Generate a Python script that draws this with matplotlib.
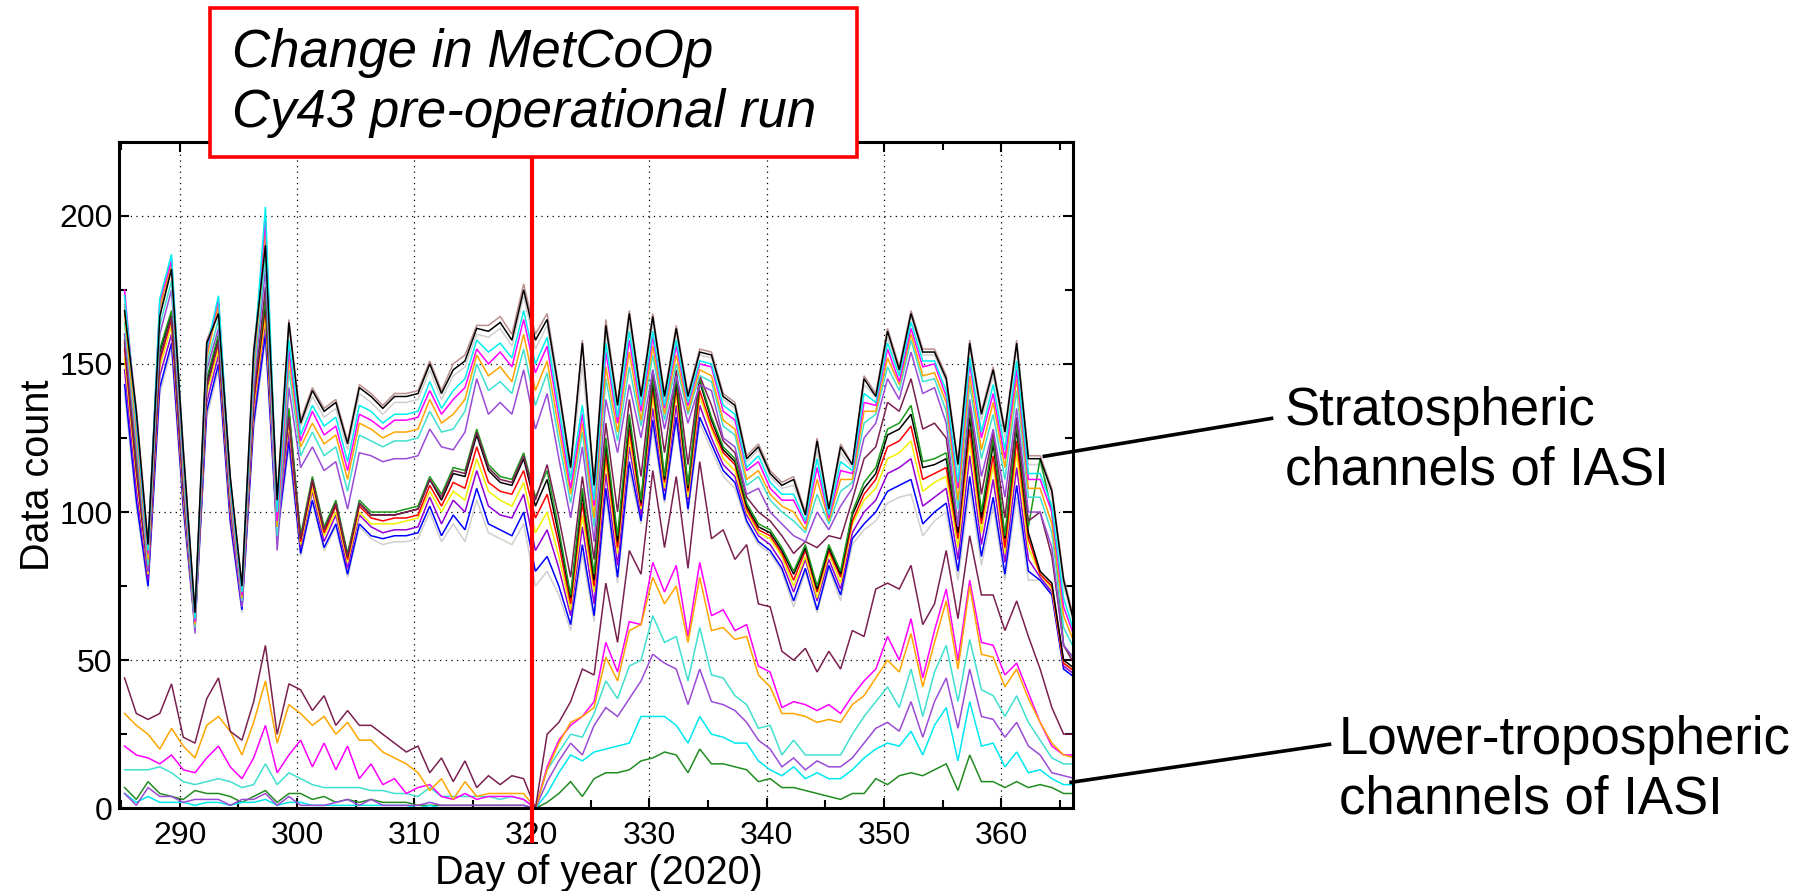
import numpy as np
import matplotlib
matplotlib.use("Agg")
import matplotlib.pyplot as plt
from matplotlib.lines import Line2D
from matplotlib.patches import Rectangle
from matplotlib.ticker import MultipleLocator

plt.rcParams['font.family'] = ['Liberation Sans', 'DejaVu Sans']

# ---------------- data ----------------
# daily observation counts, day 285 ... 366 (observation time ~0.3 day into each day)
day_of_year = np.arange(285, 367) + 0.3

# Stratospheric channels, upper sub-bundle
strat_rosybrown = [170, 135, 90, 167, 183, 122, 66, 158, 168, 112,
                   75, 155, 192, 105, 165, 131, 142, 135, 138, 124,
                   143, 140, 136, 140, 140, 141, 151, 141, 150, 153,
                   163, 163, 166, 160, 177, 160, 167, 142, 116, 158,
                   110, 165, 137, 168, 140, 167, 140, 163, 140, 155,
                   154, 140, 137, 119, 123, 114, 110, 112, 100, 125,
                   101, 123, 116, 146, 140, 162, 149, 168, 155, 155,
                   146, 117, 158, 134, 149, 128, 158, 119, 119, 108,
                   78, 62]
strat_black = [168, 134, 89, 166, 182, 121, 66, 157, 167, 112,
               75, 154, 190, 104, 164, 130, 141, 134, 137, 123,
               142, 139, 135, 139, 139, 140, 150, 140, 148, 151,
               162, 161, 164, 158, 175, 158, 165, 141, 115, 157,
               109, 163, 136, 167, 139, 166, 139, 162, 139, 154,
               153, 139, 136, 118, 122, 113, 109, 111, 99, 124,
               101, 122, 116, 145, 139, 161, 148, 167, 154, 154,
               145, 116, 157, 133, 148, 127, 157, 118, 118, 107,
               77, 61]
strat_lightgray = [174, 133, 88, 170, 185, 120, 65, 156, 171, 111,
                   74, 153, 195, 102, 162, 129, 139, 132, 135, 121,
                   140, 137, 133, 137, 137, 138, 148, 138, 146, 149,
                   160, 159, 162, 156, 173, 155, 163, 138, 113, 150,
                   107, 161, 134, 164, 138, 164, 138, 160, 139, 153,
                   152, 138, 135, 117, 121, 112, 108, 109, 99, 121,
                   100, 120, 115, 143, 139, 159, 147, 166, 153, 153,
                   144, 114, 155, 131, 146, 125, 155, 116, 116, 105,
                   75, 60]
strat_cyan = [173, 131, 87, 172, 187, 119, 64, 155, 173, 110,
              73, 151, 203, 100, 158, 126, 136, 129, 132, 117,
              136, 134, 130, 133, 133, 134, 144, 135, 141, 145,
              158, 154, 157, 152, 168, 150, 159, 135, 111, 136,
              104, 157, 132, 161, 136, 161, 136, 158, 137, 151,
              150, 136, 133, 115, 119, 110, 106, 106, 97, 118,
              99, 117, 114, 140, 137, 157, 146, 164, 151, 151,
              141, 110, 152, 127, 143, 121, 151, 113, 113, 102,
              71, 58]
strat_magenta = [175, 130, 86, 171, 185, 118, 63, 154, 172, 109,
                 72, 150, 199, 97, 155, 124, 134, 126, 129, 114,
                 133, 131, 128, 131, 131, 132, 141, 133, 138, 142,
                 155, 150, 154, 149, 165, 147, 156, 132, 108, 133,
                 102, 154, 130, 158, 134, 159, 135, 156, 136, 150,
                 149, 134, 131, 114, 117, 108, 104, 104, 96, 115,
                 98, 114, 113, 137, 136, 155, 144, 162, 149, 150,
                 139, 108, 150, 125, 140, 118, 148, 111, 111, 100,
                 68, 57]
strat_orange = [167, 127, 84, 169, 184, 116, 62, 152, 170, 107,
                71, 147, 196, 95, 152, 122, 130, 123, 126, 111,
                130, 128, 125, 127, 127, 128, 138, 130, 133, 138,
                153, 146, 149, 144, 160, 141, 151, 128, 106, 130,
                98, 149, 127, 154, 131, 156, 133, 153, 134, 148,
                146, 131, 128, 111, 114, 106, 102, 100, 94, 111,
                97, 111, 111, 134, 134, 152, 143, 160, 146, 147,
                137, 104, 146, 121, 137, 115, 145, 108, 108, 96,
                65, 55]
strat_turquoise = [164, 125, 82, 163, 178, 114, 61, 150, 165, 106,
                   70, 145, 187, 92, 148, 119, 127, 119, 122, 107,
                   126, 124, 122, 124, 124, 125, 134, 127, 128, 134,
                   150, 141, 144, 140, 155, 136, 147, 124, 103, 127,
                   95, 145, 124, 149, 129, 153, 131, 150, 133, 146,
                   144, 129, 126, 109, 112, 104, 100, 97, 93, 106,
                   96, 107, 110, 130, 133, 149, 141, 158, 144, 145,
                   134, 101, 143, 118, 133, 111, 141, 105, 105, 93,
                   61, 53]
strat_purple = [160, 122, 80, 160, 175, 112, 59, 148, 162, 104,
                68, 142, 182, 87, 142, 115, 122, 114, 117, 101,
                120, 119, 117, 118, 118, 119, 128, 122, 121, 127,
                145, 133, 137, 133, 148, 128, 140, 118, 98, 122,
                90, 138, 120, 143, 125, 148, 128, 146, 130, 143,
                141, 125, 122, 106, 108, 100, 96, 92, 90, 100,
                94, 102, 108, 125, 130, 145, 138, 154, 140, 142,
                130, 95, 138, 112, 128, 105, 135, 100, 100, 88,
                55, 50]
strat_maroon = [157, 115, 80, 152, 166, 108, 62, 142, 158, 102,
                70, 138, 176, 97, 132, 91, 111, 94, 103, 85,
                103, 99, 99, 99, 100, 101, 111, 105, 114, 113,
                127, 115, 111, 110, 119, 104, 116, 98, 78, 112,
                84, 130, 100, 138, 112, 148, 120, 148, 116, 146,
                136, 124, 120, 105, 100, 97, 92, 86, 90, 88,
                92, 91, 104, 118, 122, 137, 134, 145, 128, 130,
                125, 95, 137, 106, 127, 98, 132, 97, 100, 85,
                55, 48]

# Stratospheric channels, lower sub-bundle
strat_green = [160, 118, 82, 155, 168, 110, 64, 145, 160, 104,
               72, 140, 172, 100, 135, 92, 112, 95, 104, 86,
               104, 100, 100, 100, 101, 102, 112, 106, 115, 114,
               128, 116, 112, 111, 120, 105, 114, 94, 72, 108,
               79, 125, 92, 133, 104, 146, 112, 146, 109, 145,
               132, 122, 118, 103, 96, 94, 88, 80, 89, 75,
               89, 80, 100, 110, 115, 128, 130, 136, 117, 118,
               120, 95, 135, 100, 125, 92, 130, 95, 118, 100,
               55, 50]
strat_black2 = [158, 116, 81, 154, 167, 109, 64, 144, 159, 103,
                71, 139, 171, 99, 134, 91, 111, 94, 103, 85,
                103, 99, 99, 99, 100, 101, 111, 104, 113, 112,
                126, 114, 110, 109, 118, 102, 111, 92, 71, 106,
                77, 123, 90, 131, 103, 144, 111, 144, 108, 144,
                131, 121, 117, 102, 95, 93, 87, 79, 88, 74,
                88, 79, 99, 108, 113, 126, 128, 133, 115, 116,
                118, 93, 132, 98, 123, 91, 128, 93, 80, 76,
                50, 47]
strat_red = [155, 114, 80, 151, 165, 108, 63, 142, 157, 102,
             71, 137, 169, 98, 132, 90, 110, 93, 102, 84,
             102, 98, 97, 98, 98, 99, 109, 102, 110, 108,
             122, 110, 107, 106, 114, 98, 106, 89, 69, 103,
             75, 120, 88, 128, 102, 142, 110, 142, 107, 141,
             129, 120, 116, 101, 94, 92, 86, 77, 87, 73,
             87, 78, 97, 106, 111, 122, 124, 129, 111, 113,
             115, 91, 128, 96, 119, 88, 124, 91, 79, 75,
             49, 46]
strat_yellow = [152, 112, 79, 149, 163, 106, 62, 140, 155, 101,
                70, 135, 166, 96, 130, 89, 108, 92, 100, 83,
                100, 96, 96, 96, 97, 98, 107, 100, 107, 104,
                118, 107, 104, 102, 110, 93, 100, 85, 67, 99,
                73, 117, 86, 125, 101, 139, 108, 140, 105, 139,
                128, 118, 114, 100, 93, 91, 85, 75, 85, 71,
                86, 76, 96, 104, 108, 118, 120, 124, 107, 110,
                112, 88, 124, 93, 116, 86, 120, 88, 79, 74,
                49, 46]
strat_darkviolet = [148, 108, 77, 146, 160, 104, 62, 137, 153, 99,
                    68, 133, 164, 94, 127, 88, 107, 90, 99, 81,
                    99, 95, 93, 94, 94, 95, 105, 96, 104, 100,
                    114, 102, 99, 98, 106, 87, 94, 81, 65, 95,
                    69, 113, 82, 122, 99, 135, 107, 136, 104, 136,
                    125, 116, 112, 99, 92, 89, 83, 73, 84, 70,
                    84, 74, 93, 100, 104, 113, 115, 118, 102, 105,
                    108, 84, 119, 89, 111, 83, 115, 84, 78, 73,
                    48, 45]
strat_blue = [143, 104, 75, 142, 157, 102, 61, 134, 150, 97,
              67, 130, 160, 92, 124, 86, 104, 88, 96, 79,
              96, 92, 91, 92, 92, 93, 102, 92, 99, 94,
              108, 96, 94, 92, 100, 80, 85, 75, 62, 89,
              65, 108, 78, 117, 97, 131, 104, 132, 101, 132,
              123, 114, 110, 97, 90, 87, 81, 70, 81, 67,
              82, 72, 91, 96, 100, 107, 109, 111, 96, 100,
              103, 80, 112, 85, 105, 79, 109, 80, 77, 72,
              47, 44]
strat_lightgray2 = [140, 102, 74, 140, 155, 100, 60, 132, 148, 96,
                    66, 128, 158, 90, 122, 85, 103, 87, 95, 78,
                    95, 91, 89, 90, 90, 91, 100, 90, 96, 90,
                    104, 93, 91, 89, 96, 75, 80, 72, 60, 86,
                    63, 105, 76, 114, 96, 128, 103, 130, 100, 130,
                    121, 112, 108, 96, 89, 86, 80, 68, 80, 66,
                    81, 70, 89, 94, 97, 103, 105, 106, 92, 97,
                    100, 77, 108, 82, 102, 77, 105, 77, 77, 72,
                    47, 44]

# Lower-tropospheric channels
trop_maroon = [44, 32, 30, 32, 42, 24, 22, 37, 44, 26,
               23, 36, 55, 25, 42, 40, 33, 38, 28, 33,
               28, 28, 25, 22, 19, 21, 12, 17, 9, 16,
               7, 11, 8, 11, 10, 0, 25, 29, 36, 47,
               45, 76, 56, 87, 79, 114, 88, 112, 81, 117,
               91, 94, 84, 89, 69, 68, 53, 50, 54, 46,
               53, 47, 60, 58, 74, 76, 74, 82, 62, 69,
               87, 64, 92, 72, 72, 60, 70, 58, 47, 34,
               25, 25]
trop_orange = [32, 28, 25, 20, 27, 21, 17, 28, 31, 26,
               18, 29, 43, 22, 35, 32, 28, 31, 25, 29,
               23, 23, 19, 17, 15, 12, 6, 10, 3, 9,
               4, 5, 5, 5, 5, 0, 13, 22, 29, 31,
               34, 51, 43, 60, 62, 78, 69, 75, 56, 78,
               60, 61, 57, 58, 45, 41, 32, 32, 31, 29,
               30, 29, 35, 38, 44, 50, 46, 59, 41, 56,
               70, 47, 75, 52, 51, 41, 47, 37, 29, 22,
               18, 17]
trop_magenta = [21, 18, 17, 15, 18, 13, 12, 17, 21, 14,
                10, 17, 28, 12, 18, 23, 14, 22, 13, 21,
                10, 15, 8, 10, 5, 7, 8, 4, 3, 5,
                3, 4, 4, 4, 3, 0, 14, 23, 28, 31,
                36, 56, 46, 63, 62, 83, 73, 82, 58, 83,
                65, 67, 60, 62, 48, 46, 34, 36, 35, 33,
                35, 32, 38, 43, 47, 58, 50, 64, 44, 60,
                74, 50, 77, 56, 55, 45, 49, 39, 29, 21,
                18, 18]
trop_turquoise = [13, 13, 13, 14, 12, 9, 8, 9, 10, 9,
                  7, 8, 15, 8, 12, 10, 8, 7, 7, 7,
                  7, 6, 6, 5, 5, 4, 7, 4, 4, 4,
                  4, 4, 3, 4, 3, 0, 13, 19, 25, 24,
                  32, 43, 37, 48, 50, 65, 56, 58, 43, 61,
                  45, 44, 38, 35, 27, 28, 18, 23, 18, 18,
                  18, 18, 25, 31, 36, 41, 34, 47, 31, 46,
                  55, 36, 57, 40, 38, 31, 38, 29, 23, 17,
                  15, 15]
trop_purple = [5, 1, 7, 4, 4, 2, 3, 3, 3, 1,
               3, 3, 5, 1, 4, 1, 1, 1, 2, 3,
               1, 3, 1, 1, 1, 1, 2, 1, 1, 1,
               1, 1, 1, 1, 1, 0, 9, 16, 22, 18,
               28, 34, 31, 37, 43, 52, 49, 47, 35, 47,
               36, 35, 33, 29, 23, 20, 14, 17, 13, 16,
               14, 14, 17, 22, 27, 29, 26, 36, 24, 36,
               44, 27, 47, 31, 30, 24, 29, 21, 18, 12,
               11, 10]
trop_cyan = [5, 2, 4, 2, 2, 2, 1, 2, 2, 1,
             2, 2, 3, 1, 2, 2, 1, 1, 1, 1,
             1, 1, 1, 1, 1, 0, 1, 0, 0, 0,
             0, 0, 0, 0, 0, 0, 5, 12, 18, 16,
             19, 20, 21, 22, 31, 31, 31, 28, 22, 31,
             25, 24, 22, 22, 16, 13, 11, 14, 10, 12,
             10, 10, 13, 17, 20, 22, 21, 26, 18, 28,
             34, 16, 36, 21, 22, 14, 19, 12, 13, 10,
             8, 8]
trop_green = [7, 3, 9, 5, 4, 3, 6, 5, 5, 4,
              2, 4, 6, 2, 5, 5, 3, 4, 2, 3,
              2, 3, 2, 2, 2, 1, 1, 1, 1, 1,
              1, 1, 1, 1, 1, 0, 2, 5, 9, 4,
              10, 12, 12, 13, 16, 17, 19, 18, 12, 20,
              15, 15, 14, 13, 9, 10, 7, 7, 6, 5,
              4, 3, 5, 5, 10, 8, 11, 12, 11, 13,
              15, 6, 18, 9, 9, 7, 9, 7, 8, 7,
              5, 5]

change_day = 320
x_ticks = [290, 300, 310, 320, 330, 340, 350, 360]
y_ticks = [0, 50, 100, 150, 200]

# ---------------- drawing ----------------
W, H = 1809, 891
fig = plt.figure(figsize=(W / 100, H / 100), dpi=100)
ax_l, ax_r, ax_t, ax_b = 119.4, 1073.0, 141.7, 808.3
ax = fig.add_axes([ax_l / W, 1 - ax_b / H, (ax_r - ax_l) / W, (ax_b - ax_t) / H])

series = [
    (strat_lightgray2, '#cfcfcf'), (strat_lightgray, '#d0d0d0'),
    (strat_rosybrown, '#bc8f8f'),
    (strat_blue, '#0000ff'), (strat_darkviolet, '#9400d3'), (strat_yellow, '#f0f000'),
    (strat_red, '#ff0000'), (strat_black2, '#000000'), (strat_green, '#1a9a1a'),
    (strat_maroon, '#7a2050'),
    (strat_purple, '#9a4bd6'), (strat_turquoise, '#40e0d0'), (strat_orange, '#ffa500'),
    (strat_magenta, '#ff00ff'), (strat_cyan, '#00f0f0'), (strat_black, '#000000'),
    (trop_green, '#228b22'), (trop_cyan, '#00e8f0'), (trop_purple, '#9a4bd6'),
    (trop_turquoise, '#40e0d0'), (trop_magenta, '#ff00ff'), (trop_orange, '#ffa500'),
    (trop_maroon, '#7a2050'),
]
for vals, col in series:
    ax.plot(day_of_year, vals, color=col, lw=1.1, solid_joinstyle='miter')

ax.set_xlim(284.86, 366.1)
ax.set_ylim(0, 225)
ax.set_xticks(x_ticks)
ax.set_yticks(y_ticks)
ax.xaxis.set_minor_locator(MultipleLocator(5))
ax.yaxis.set_minor_locator(MultipleLocator(25))
ax.tick_params(which='both', direction='in', top=True, right=True, width=1.5,
               labelsize=23, colors='black')
ax.tick_params(which='major', length=7.5)
ax.tick_params(which='minor', length=5.5)
ax.tick_params(axis='x', which='major', pad=9)
ax.tick_params(axis='y', which='major', pad=5)
for s in ax.spines.values():
    s.set_linewidth(2.2)
ax.grid(True, which='major', color='black', linestyle=(0, (1, 3.5)), linewidth=0.9)
ax.set_axisbelow(True)

ax.set_xlabel('Day of year (2020)', fontsize=28.5)
ax.set_ylabel('Data count', fontsize=28.5)
ax.xaxis.set_label_coords((599 - ax_l) / (ax_r - ax_l), -(854 - ax_b) / (ax_b - ax_t))
ax.yaxis.set_label_coords(-(ax_l - 57) / (ax_r - ax_l), 0.5)

# red vertical marker at the change day
ax.plot([change_day, change_day], [-11.7, 224], color='red', lw=3.0,
        clip_on=False, zorder=6, solid_capstyle='butt')

# annotation box
box = Rectangle((209.5 / W, 1 - 156.7 / H), (857 - 209.5) / W, (156.7 - 8.3) / H,
                transform=fig.transFigure, facecolor='white', edgecolor='red',
                lw=2.6, zorder=10)
fig.add_artist(box)
fig.text(232.5 / W, 1 - 66.7 / H, 'Change in MetCoOp', fontsize=38, style='italic',
         ha='left', va='baseline', zorder=11)
fig.text(232.5 / W, 1 - 126.7 / H, 'Cy43 pre-operational run', fontsize=38, style='italic',
         ha='left', va='baseline', zorder=11)

# side annotations
fig.text(1285 / W, 1 - 425 / H, 'Stratospheric', fontsize=38, ha='left', va='baseline')
fig.text(1285 / W, 1 - 484.7 / H, 'channels of IASI', fontsize=38, ha='left', va='baseline')
fig.text(1338.7 / W, 1 - 754 / H, 'Lower-tropospheric', fontsize=38, ha='left', va='baseline')
fig.text(1338.7 / W, 1 - 813.5 / H, 'channels of IASI', fontsize=38, ha='left', va='baseline')
fig.add_artist(Line2D([1271.5 / W, 1044.3 / W], [1 - 418.4 / H, 1 - 456.3 / H],
                      transform=fig.transFigure, color='black', lw=2.6))
fig.add_artist(Line2D([1329.5 / W, 1071.1 / W], [1 - 744.3 / H, 1 - 782.3 / H],
                      transform=fig.transFigure, color='black', lw=2.6))

fig.savefig('out.png', dpi=100)
